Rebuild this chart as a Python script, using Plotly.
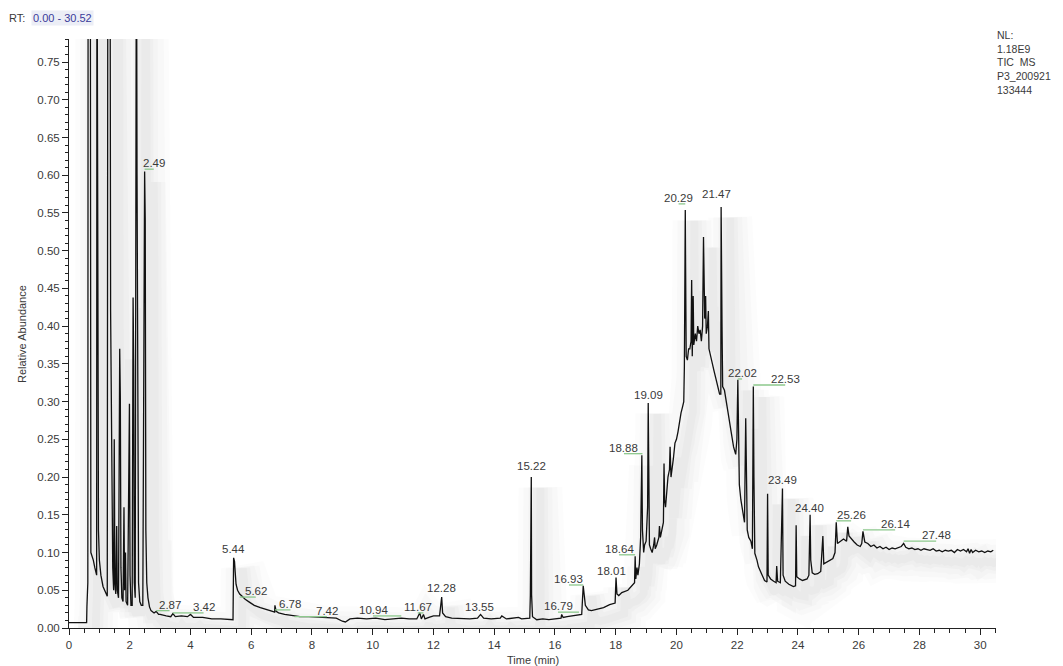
import plotly.graph_objects as go

# Total ion chromatogram: retention time (min) and relative abundance
time_min = [
    0.00, 0.58, 0.59, 0.62, 0.63, 0.70, 0.72, 0.75, 0.80, 0.85, 0.90,
    0.91, 0.92, 0.935, 0.95, 0.97, 1.00, 1.05, 1.12, 1.20, 1.26,
    1.28, 1.35, 1.37, 1.39, 1.41, 1.44, 1.47,
    1.49, 1.51, 1.54, 1.57, 1.59, 1.63,
    1.67, 1.69, 1.71, 1.74, 1.78,
    1.81, 1.83, 1.86, 1.88, 1.93,
    1.99, 2.01, 2.04, 2.08,
    2.11, 2.13, 2.15, 2.18,
    2.22, 2.24, 2.26, 2.29, 2.33, 2.38, 2.43,
    2.49, 2.51, 2.53, 2.56, 2.60, 2.65, 2.70, 2.80, 2.87, 2.95,
    3.00, 3.20, 3.35, 3.42, 3.50, 3.70, 3.90, 4.00, 4.10, 4.40, 4.70,
    5.00, 5.30, 5.40, 5.42, 5.45, 5.47, 5.50, 5.55, 5.62, 5.70, 5.80,
    5.95, 6.10, 6.30, 6.50, 6.70, 6.77, 6.78, 6.82, 6.90, 7.10, 7.30,
    7.42, 7.60, 7.90, 8.20, 8.50, 8.80, 9.00, 9.10, 9.25, 9.50, 9.80,
    10.10, 10.40, 10.70, 10.94, 11.20, 11.45, 11.55, 11.60, 11.67, 11.72,
    11.85, 12.00, 12.20, 12.27, 12.30, 12.40, 12.60, 12.90, 13.20, 13.45,
    13.55, 13.65, 13.90, 14.20, 14.25, 14.40, 14.60, 14.80, 14.90, 15.10,
    15.17, 15.19, 15.22, 15.23, 15.26, 15.40, 15.60, 15.80, 16.00, 16.20,
    16.22, 16.27, 16.40, 16.60, 16.79, 16.88, 16.93, 16.96, 17.00, 17.10,
    17.20, 17.40, 17.60, 17.80, 17.98, 18.01, 18.04, 18.10, 18.20, 18.40,
    18.55, 18.62, 18.64, 18.66, 18.70, 18.73, 18.78, 18.82, 18.86, 18.88,
    18.92, 18.95, 19.00, 19.05, 19.07, 19.09, 19.11, 19.15, 19.20, 19.25,
    19.28, 19.30, 19.35, 19.42, 19.44, 19.47, 19.52, 19.57, 19.59, 19.61,
    19.64, 19.68, 19.72, 19.77, 19.79, 19.82, 19.86, 19.90, 19.95, 20.00,
    20.05, 20.10, 20.15, 20.20, 20.24, 20.26, 20.29, 20.30, 20.32, 20.36,
    20.40, 20.44, 20.48, 20.50, 20.52, 20.55, 20.57, 20.62, 20.66, 20.70,
    20.74, 20.78, 20.82, 20.86, 20.89, 20.91, 20.93, 20.96, 20.98, 21.02,
    21.05, 21.07, 21.12, 21.18, 21.24, 21.30, 21.36, 21.42, 21.46, 21.47,
    21.48, 21.50, 21.52, 21.58, 21.65, 21.72, 21.80, 21.88, 21.95, 21.99,
    22.02, 22.04, 22.07, 22.12, 22.18, 22.24, 22.28, 22.30, 22.33, 22.38,
    22.45, 22.50, 22.53, 22.55, 22.58, 22.65, 22.70, 22.80, 22.90, 22.98,
    23.00, 23.02, 23.10, 23.20, 23.28, 23.30, 23.33, 23.42, 23.49, 23.51,
    23.58, 23.70, 23.85, 23.92, 23.94, 23.96, 24.05, 24.15, 24.30, 24.36,
    24.40, 24.42, 24.47, 24.55, 24.65, 24.75, 24.82, 24.85, 24.95, 25.05,
    25.15, 25.22, 25.26, 25.30, 25.40, 25.50, 25.60, 25.64, 25.68, 25.75,
    25.85, 25.95, 26.05, 26.10, 26.14, 26.20, 26.30, 26.40, 26.50, 26.60,
    26.70, 26.80, 26.90, 27.00, 27.10, 27.20, 27.30, 27.40, 27.48, 27.55,
    27.65, 27.75, 27.85, 27.95, 28.05, 28.15, 28.25, 28.35, 28.45, 28.55,
    28.65, 28.75, 28.85, 28.95, 29.05, 29.15, 29.25, 29.35, 29.45, 29.55,
    29.60, 29.65, 29.70, 29.75, 29.85, 29.95, 30.05, 30.15, 30.25, 30.35,
    30.43,
]

rel_abundance = [
    0.007, 0.007, 0.028, 0.060, 1.000, 1.000, 0.100, 0.097, 0.090, 0.080, 0.070,
    0.070, 1.000, 0.514, 0.307, 0.130, 0.090, 0.070, 0.055, 0.046, 0.042,
    1.000, 1.000, 0.420, 0.300, 0.160, 0.080, 0.050,
    0.250, 0.060, 0.045, 0.135, 0.050, 0.040,
    0.370, 0.305, 0.080, 0.040, 0.035,
    0.160, 0.050, 0.100, 0.035, 0.030,
    0.297, 0.070, 0.030, 0.030,
    0.438, 0.347, 0.060, 0.040,
    1.000, 0.600, 0.350, 0.060, 0.035, 0.030, 0.030,
    0.605, 0.540, 0.130, 0.060, 0.040, 0.028, 0.023, 0.020, 0.022, 0.018,
    0.018, 0.016, 0.015, 0.019, 0.015, 0.016, 0.015, 0.018, 0.014, 0.014, 0.012,
    0.012, 0.011, 0.011, 0.093, 0.088, 0.075, 0.058, 0.050, 0.045, 0.042, 0.038,
    0.034, 0.030, 0.027, 0.025, 0.022, 0.021, 0.030, 0.022, 0.020, 0.018, 0.017,
    0.016, 0.015, 0.015, 0.014, 0.014, 0.013, 0.009, 0.008, 0.012, 0.013, 0.012,
    0.013, 0.011, 0.012, 0.013, 0.012, 0.012, 0.020, 0.012, 0.018, 0.012,
    0.014, 0.016, 0.016, 0.041, 0.020, 0.015, 0.013, 0.012, 0.012, 0.013,
    0.018, 0.013, 0.012, 0.013, 0.016, 0.012, 0.013, 0.014, 0.012, 0.012,
    0.013, 0.044, 0.200, 0.044, 0.015, 0.011, 0.012, 0.011, 0.012, 0.013,
    0.018, 0.014, 0.015, 0.016, 0.017, 0.018, 0.056, 0.042, 0.030, 0.024,
    0.023, 0.025, 0.027, 0.031, 0.033, 0.067, 0.045, 0.043, 0.047, 0.050,
    0.056, 0.060, 0.095, 0.065, 0.080, 0.070, 0.085, 0.120, 0.229, 0.130,
    0.100, 0.110, 0.115, 0.160, 0.298, 0.230, 0.110, 0.105, 0.100, 0.110,
    0.120, 0.105, 0.110, 0.120, 0.135, 0.120, 0.130, 0.140, 0.218, 0.170,
    0.160, 0.180, 0.200, 0.210, 0.240, 0.200, 0.210, 0.225, 0.245, 0.250,
    0.260, 0.275, 0.285, 0.293, 0.300, 0.346, 0.554, 0.488, 0.360, 0.355,
    0.370, 0.370, 0.380, 0.461, 0.360, 0.440, 0.375, 0.390, 0.380, 0.400,
    0.390, 0.395, 0.380, 0.400, 0.518, 0.460, 0.410, 0.440, 0.390, 0.400,
    0.420, 0.370, 0.360, 0.350, 0.340, 0.330, 0.320, 0.310, 0.310, 0.558,
    0.507, 0.400, 0.320, 0.315, 0.300, 0.280, 0.260, 0.240, 0.230, 0.250,
    0.329, 0.240, 0.190, 0.170, 0.155, 0.140, 0.278, 0.190, 0.130, 0.120,
    0.115, 0.105, 0.320, 0.200, 0.099, 0.090, 0.081, 0.072, 0.063, 0.061,
    0.178, 0.070, 0.065, 0.062, 0.060, 0.082, 0.062, 0.060, 0.185, 0.070,
    0.062, 0.058, 0.055, 0.056, 0.136, 0.068, 0.065, 0.063, 0.065, 0.070,
    0.150, 0.090, 0.073, 0.071, 0.072, 0.075, 0.122, 0.085, 0.087, 0.089,
    0.092, 0.100, 0.140, 0.112, 0.115, 0.118, 0.115, 0.134, 0.122, 0.118,
    0.114, 0.110, 0.108, 0.112, 0.128, 0.114, 0.112, 0.108, 0.110, 0.106,
    0.108, 0.105, 0.107, 0.104, 0.106, 0.105, 0.107, 0.108, 0.112, 0.107,
    0.105, 0.106, 0.104, 0.105, 0.103, 0.105, 0.104, 0.103, 0.105, 0.102,
    0.103, 0.101, 0.103, 0.102, 0.103, 0.100, 0.104, 0.102, 0.104, 0.101,
    0.105, 0.099, 0.104, 0.100, 0.103, 0.101, 0.102, 0.100, 0.102, 0.101,
    0.103,
]

# Labelled peaks: retention time, label centre (min), label height (abundance),
# and whether a leader line joins the label back to its peak
peak_rt = [2.49, 2.87, 3.42, 5.44, 5.62, 6.78, 7.42, 10.94, 11.67, 12.28,
           13.55, 15.22, 16.79, 16.93, 18.01, 18.64, 18.88, 19.09, 20.29,
           21.47, 22.02, 22.53, 23.49, 24.40, 25.26, 26.14, 27.48]
label_x = [2.79, 3.31, 4.43, 5.42, 6.15, 7.29, 8.49, 10.01, 11.48, 12.28,
           13.50, 15.24, 16.10, 16.46, 17.87, 18.11, 18.27, 19.08, 20.07,
           21.33, 22.16, 23.58, 23.48, 24.37, 25.75, 27.20, 28.55]
label_y = [0.616, 0.031, 0.028, 0.105, 0.049, 0.032, 0.023, 0.024, 0.028, 0.053,
           0.028, 0.215, 0.029, 0.065, 0.076, 0.105, 0.239, 0.309, 0.570,
           0.575, 0.338, 0.330, 0.196, 0.159, 0.150, 0.138, 0.123]
has_leader = [1, 1, 1, 0, 1, 1, 1, 1, 1, 0,
              0, 0, 1, 1, 0, 1, 1, 0, 1,
              0, 1, 1, 0, 0, 1, 1, 1]

x_ticks = list(range(0, 31, 2))
y_ticks = [round(0.05 * i, 2) for i in range(16)]

TEXT = "#3a3a3a"
FONT = "Liberation Sans, Arial, sans-serif"

fig = go.Figure()

# Soft grey drop shadow behind the trace, built from stacked faint strokes
for w, a in [(44, 0.012), (34, 0.014), (24, 0.016), (15, 0.018), (8, 0.02)]:
    fig.add_trace(go.Scatter(
        x=[t + 0.3 for t in time_min], y=[v - 0.014 for v in rel_abundance],
        mode="lines", line=dict(color=f"rgba(0,0,0,{a})", width=w),
        hoverinfo="skip", showlegend=False))

fig.add_trace(go.Scatter(
    x=time_min, y=rel_abundance, mode="lines",
    line=dict(color="#111111", width=1.3), showlegend=False))

# Leader lines from each labelled peak to its label
lead_x, lead_y = [], []
for rt, lx, ly, lead in zip(peak_rt, label_x, label_y, has_leader):
    if lead:
        lead_x += [rt, lx, None]
        lead_y += [ly - 0.008, ly - 0.008, None]
fig.add_trace(go.Scatter(
    x=lead_x, y=lead_y, mode="lines",
    line=dict(color="#8cc88c", width=1.3), hoverinfo="skip", showlegend=False))

for rt, lx, ly in zip(peak_rt, label_x, label_y):
    fig.add_annotation(x=lx, y=ly, text=f"{rt:.2f}", showarrow=False,
                       font=dict(family=FONT, size=11.5, color=TEXT),
                       xanchor="center", yanchor="middle")

# Retention-time window header
fig.add_annotation(xref="paper", yref="paper", x=-(69 - 7) / 927, y=1.0 + 21 / 589,
                   xanchor="left", yanchor="middle", showarrow=False,
                   text="RT:", font=dict(family=FONT, size=11, color=TEXT))
fig.add_annotation(xref="paper", yref="paper", x=-(69 - 31) / 927, y=1.0 + 21 / 589,
                   xanchor="left", yanchor="middle", showarrow=False,
                   text="0.00 - 30.52", bgcolor="#eceef6", borderpad=1,
                   font=dict(family=FONT, size=11, color="#3b3b9a"))

fig.add_annotation(xref="paper", yref="paper", x=(995 - 69) / 927, y=(628 - 27) / 589,
                   xanchor="left", yanchor="top", showarrow=False, align="left",
                   text="NL:<br>1.18E9<br>TIC  MS<br>P3_200921<br>133444",
                   font=dict(family=FONT, size=10.5, color=TEXT))

fig.add_annotation(xref="paper", yref="paper", x=(533 - 69) / 927, y=-(660 - 628) / 589,
                   xanchor="center", yanchor="middle", showarrow=False,
                   text="Time (min)", font=dict(family=FONT, size=11, color=TEXT))

fig.add_annotation(xref="paper", yref="paper", x=-(69 - 22) / 927, y=(628 - 334) / 589,
                   xanchor="center", yanchor="middle", showarrow=False, textangle=-90,
                   text="Relative Abundance",
                   font=dict(family="Liberation Sans Narrow, Liberation Sans, Arial", size=11, color=TEXT))

fig.update_layout(
    width=1063, height=666,
    margin=dict(l=69, r=67, t=39, b=38),
    paper_bgcolor="white", plot_bgcolor="white",
    font=dict(family=FONT, size=11, color=TEXT),
)

fig.update_xaxes(
    range=[0, 30.52], tickvals=x_ticks, ticktext=[str(t) for t in x_ticks],
    showgrid=False, zeroline=False, showline=True, linecolor="#222", linewidth=1,
    ticks="outside", ticklen=6, tickcolor="#222",
    minor=dict(dtick=0.5, tick0=0, ticks="outside", ticklen=4, tickcolor="#222"),
    tickfont=dict(family=FONT, size=11.5, color=TEXT),
)
fig.update_yaxes(
    range=[0, 0.7805], tickvals=y_ticks, ticktext=[f"{v:.2f}" for v in y_ticks],
    showgrid=False, zeroline=False, showline=True, linecolor="#222", linewidth=1,
    ticks="outside", ticklen=6, tickcolor="#222",
    minor=dict(dtick=0.01, tick0=0, ticks="outside", ticklen=3, tickcolor="#222"),
    tickfont=dict(family=FONT, size=11.5, color=TEXT),
)

fig.write_html("out.html")
